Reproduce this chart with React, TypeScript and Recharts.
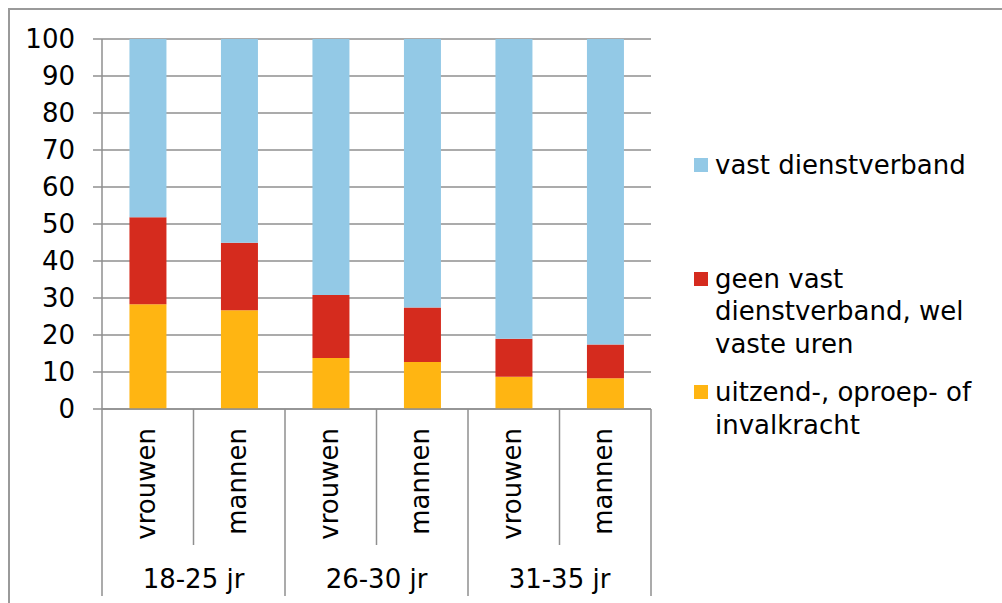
import { BarChart, Bar, XAxis, YAxis, CartesianGrid } from "recharts";

const sexes = ["vrouwen", "mannen", "vrouwen", "mannen", "vrouwen", "mannen"];
const groups = ["18-25 jr", "26-30 jr", "31-35 jr"];

// percentages, stacked bottom to top
const uitzend = [28.3, 26.7, 13.8, 12.7, 8.7, 8.3];
const geenVast = [23.5, 18.2, 17.0, 14.7, 10.3, 9.1];
const vast = [48.2, 55.1, 69.2, 72.6, 81.0, 82.6];

const yTicks = [0, 10, 20, 30, 40, 50, 60, 70, 80, 90, 100];

const seriesNames = {
  vast: "vast dienstverband",
  geenVast: "geen vast dienstverband, wel vaste uren",
  uitzend: "uitzend-, oproep- of invalkracht",
};

const colors = {
  vast: "#93C9E6",
  geenVast: "#D52B1E",
  uitzend: "#FFB512",
};

const data = sexes.map((s, i) => ({
  key: `${groups[Math.floor(i / 2)]}|${s}`,
  uitzend: uitzend[i],
  geenVast: geenVast[i],
  vast: vast[i],
}));

const W = 1002;
const H = 603;
const FONT = "'DejaVu Sans', Verdana, sans-serif";
const GRID = "#8f8f8f";
const margin = { top: 39, right: 351, bottom: 0, left: 0 };
const Y_W = 102;
const BAND = (W - margin.left - margin.right - Y_W) / sexes.length;

const CatTick = (props: any) => {
  const { x, y, index } = props;
  const half = BAND / 2;
  const last = index % 2 === 1;
  return (
    <g>
      <text
        transform={`translate(${x + 7},${y + 19}) rotate(-90)`}
        textAnchor="end"
        fontSize={26}
        fontFamily={FONT}
        fill="#000"
      >
        {sexes[index]}
      </text>
      {index === 0 && (
        <line x1={x - half} y1={y} x2={x - half} y2={y + 187} stroke={GRID} strokeWidth={1.5} />
      )}
      <line x1={x + half} y1={y} x2={x + half} y2={y + (last ? 187 : 136)} stroke={GRID} strokeWidth={1.5} />
      {last && (
        <text x={x - half} y={y + 179} textAnchor="middle" fontSize={26} fontFamily={FONT} fill="#000">
          {groups[(index - 1) / 2]}
        </text>
      )}
    </g>
  );
};

const legendOrder: ("vast" | "geenVast" | "uitzend")[] = ["vast", "geenVast", "uitzend"];
const legendGaps = [0, 81, 16];

const LegendBox = () => (
  <div
    style={{
      position: "absolute",
      left: 694,
      top: 149,
      width: 300,
      fontFamily: FONT,
      fontSize: 26,
      lineHeight: "32.5px",
      color: "#000",
    }}
  >
    {legendOrder.map((k, i) => (
      <div key={k} style={{ display: "flex", alignItems: "flex-start", marginTop: legendGaps[i] }}>
        <div style={{ width: 14, height: 14, background: colors[k], marginTop: 9, marginRight: 7, flexShrink: 0 }} />
        <div style={{ width: 275 }}>{seriesNames[k]}</div>
      </div>
    ))}
  </div>
);

export default function App() {
  return (
    <div style={{ position: "absolute", left: 0, top: 0, width: W, height: H, background: "#fff", overflow: "hidden" }}>
      <div
        style={{
          position: "absolute",
          left: 8,
          top: 8,
          width: W,
          height: H,
          borderTop: "2px solid #9a9a9a",
          borderLeft: "2px solid #9a9a9a",
        }}
      />
      <BarChart width={W} height={H} data={data} margin={margin} barCategoryGap="30%">
        <CartesianGrid vertical={false} stroke={GRID} strokeWidth={1.5} />
        <XAxis
          dataKey="key"
          height={194}
          interval={0}
          tickLine={false}
          tickSize={0}
          tickMargin={0}
          axisLine={{ stroke: GRID, strokeWidth: 1.5 }}
          tick={<CatTick />}
        />
        <YAxis
          width={Y_W}
          domain={[0, 100]}
          ticks={yTicks}
          interval={0}
          tickSize={9}
          tickMargin={18}
          axisLine={{ stroke: GRID, strokeWidth: 1.5 }}
          tickLine={{ stroke: GRID, strokeWidth: 1.5 }}
          tick={{ fontSize: 26, fontFamily: FONT, fill: "#000" }}
        />
        <Bar dataKey="uitzend" name={seriesNames.uitzend} stackId="a" fill={colors.uitzend} isAnimationActive={false} />
        <Bar dataKey="geenVast" name={seriesNames.geenVast} stackId="a" fill={colors.geenVast} isAnimationActive={false} />
        <Bar dataKey="vast" name={seriesNames.vast} stackId="a" fill={colors.vast} isAnimationActive={false} />
      </BarChart>
      <LegendBox />
    </div>
  );
}
